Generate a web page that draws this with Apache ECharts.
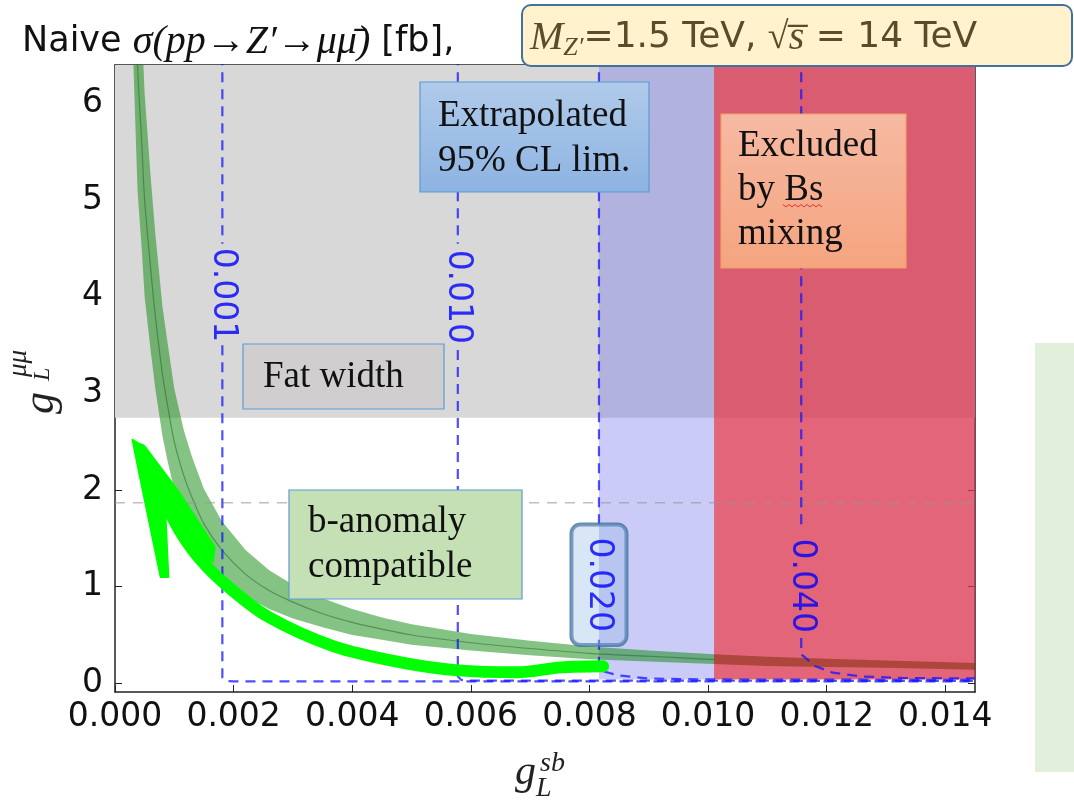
<!DOCTYPE html>
<html>
<head>
<meta charset="utf-8">
<title>Naive sigma(pp -> Z' -> mu mu) in the gL_sb / gL_mumu plane</title>
<script src="https://cdn.jsdelivr.net/npm/echarts@6/dist/echarts.min.js"></script>
<style>
  html, body { margin: 0; padding: 0; background: #fff; }
  #main { width: 1074px; height: 802px; }
</style>
</head>
<body>
<div id="main"></div>
<script>
// axis ranges + ticks
var xMin = 0, xMax = 0.0145, yMin = -0.09, yMax = 6.4;
var xTicks = [0, 0.002, 0.004, 0.006, 0.008, 0.010, 0.012, 0.014];
var xTickLabels = ['0.000', '0.002', '0.004', '0.006', '0.008', '0.010', '0.012', '0.014'];
var yTicks = [0, 1, 2, 3, 4, 5, 6];
var yTickLabels = ['0', '1', '2', '3', '4', '5', '6'];

// shaded regions
var fatWidthY = 2.75;          // "Fat width" above this
var extrapStartX = 0.00816;    // extrapolated 95% CL limit (blue)
var bsMixStartX = 0.0101;      // excluded by Bs mixing (red)
var regionBottomY = 0.04;
var refLineY = 1.87;           // grey dashed line

// b-anomaly compatible band (green)
var bandX   = [0.0003, 0.00038, 0.00045, 0.0005, 0.0006, 0.00068, 0.0008, 0.00088, 0.001, 0.00116, 0.0013, 0.0015, 0.0018, 0.0022, 0.0026, 0.003, 0.0035, 0.004, 0.0045, 0.005, 0.006, 0.007, 0.008, 0.009, 0.0101, 0.011, 0.012, 0.013, 0.0145];
var bandMid = [8.3, 6.4, 5.6, 5.0, 4.3, 3.8, 3.2, 2.9, 2.5, 2.15, 1.92, 1.65, 1.38, 1.13, 0.96, 0.84, 0.72, 0.63, 0.56, 0.5, 0.42, 0.36, 0.31, 0.28, 0.245, 0.225, 0.21, 0.195, 0.175];
var bandHi  = [10.1, 7.8, 6.8, 6.1, 5.25, 4.65, 3.9, 3.55, 3.05, 2.62, 2.34, 2.01, 1.68, 1.38, 1.17, 1.02, 0.88, 0.77, 0.68, 0.61, 0.51, 0.44, 0.38, 0.34, 0.3, 0.275, 0.255, 0.235, 0.21];
var bandLo  = [6.6, 5.1, 4.5, 4.0, 3.45, 3.05, 2.56, 2.32, 2.0, 1.72, 1.54, 1.32, 1.1, 0.9, 0.77, 0.67, 0.58, 0.5, 0.45, 0.4, 0.34, 0.29, 0.25, 0.225, 0.2, 0.18, 0.17, 0.16, 0.14];

// cross-section contours (null = gap for the label)
var contourLevels = ['0.001', '0.010', '0.020', '0.040'];
var c001X = [0.00181, 0.00181, null, 0.00181, 0.00181, 0.00186, 0.0020, 0.0145];
var c001Y = [6.5, 4.55, null, 3.5, 0.06, 0.025, 0.02, 0.02];
var c010X = [0.00578, 0.00578, null, 0.00578, 0.00578, 0.00584, 0.0060, 0.0145];
var c010Y = [6.5, 4.55, null, 3.45, 0.07, 0.035, 0.028, 0.025];
var c020X = [0.00816, 0.00816, null, 0.00816, 0.00816, 0.0082, 0.0085, 0.0090, 0.0100, 0.0145];
var c020Y = [6.5, 1.6, null, 0.45, 0.2, 0.13, 0.08, 0.05, 0.04, 0.035];
var c040X = [0.01157, 0.01157, null, 0.01157, 0.01157, 0.0118, 0.0121, 0.0126, 0.0133, 0.0145];
var c040Y = [6.5, 1.58, null, 0.47, 0.3, 0.18, 0.11, 0.07, 0.055, 0.05];
var contourLabelX = [0.00181, 0.00578, 0.00816, 0.01157];
var contourLabelY = [4.02, 4.0, 1.02, 1.01];

// hand drawn green arrow
var arrowX = [0.00823, 0.00752, 0.00679, 0.00578, 0.00482, 0.00369, 0.00257, 0.0019, 0.00144, 0.0011, 0.00082, 0.0006, 0.00043];
var arrowY = [0.176, 0.165, 0.114, 0.134, 0.217, 0.383, 0.693, 1.003, 1.28, 1.57, 1.9, 2.21, 2.42];
var arrowHeadX = [0.000295, 0.000515, 0.00110, 0.00168, 0.00165, 0.00149, 0.00085, 0.0009, 0.00077, 0.00043];
var arrowHeadY = [2.52, 2.44, 1.96, 1.41, 1.26, 1.26, 1.75, 1.10, 1.10, 2.11];

function zip(xs, ys) {
  return xs.map(function (x, i) { return x === null ? ['-', '-'] : [x, ys[i]]; });
}
function tickLabel(v, ticks, labels) {
  var best = 0;
  for (var i = 1; i < ticks.length; i++) {
    if (Math.abs(ticks[i] - v) < Math.abs(ticks[best] - v)) best = i;
  }
  return labels[best];
}
function polygonSeries(xs, ys, style, z) {
  return {
    type: 'custom', z: z, silent: true, clip: true,
    data: [[xs[0], ys[0]]],
    renderItem: function (params, api) {
      var pts = xs.map(function (x, i) { return api.coord([x, ys[i]]); });
      return { type: 'polygon', shape: { points: pts }, style: style };
    }
  };
}
function bandPart(keep) {
  var xs = [], hi = [], lo = [];
  bandX.forEach(function (x, i) {
    if (keep(x)) { xs.push(x); hi.push(bandHi[i]); lo.push(bandLo[i]); }
  });
  return { x: xs.concat(xs.slice().reverse()), y: hi.concat(lo.slice().reverse()) };
}
var greenPart = bandPart(function (x) { return x <= bsMixStartX; });
var redPart = bandPart(function (x) { return x >= bsMixStartX; });

function contour(xs, ys) {
  return {
    type: 'line', z: 4, silent: true, symbol: 'none', connectNulls: false,
    data: zip(xs, ys),
    lineStyle: { color: 'rgba(20,20,255,0.75)', width: 2.2, type: [10, 7] }
  };
}

var sans = 'DejaVu Sans';
var serif = 'Liberation Serif';

var chart = echarts.init(document.getElementById('main'));

var labelData = contourLevels.map(function (lev, i) {
  var item = { value: [contourLabelX[i], contourLabelY[i]] };
  if (lev === '0.020') {
    item.label = {
      backgroundColor: 'rgba(150,185,230,0.45)', borderColor: '#41719c',
      borderWidth: 2, borderRadius: 9, padding: [11, 13]
    };
  }
  return item;
});

var option = {
  animation: false,
  backgroundColor: '#fff',
  grid: { left: 115, right: 99, top: 65, bottom: 110, containLabel: false },
  xAxis: [{
    type: 'value', min: xMin, max: xMax, position: 'bottom',
    axisLine: { onZero: false, lineStyle: { color: '#222', width: 1.5 } },
    axisTick: { inside: true, length: 7, customValues: xTicks, lineStyle: { color: '#222' } },
    axisLabel: {
      customValues: xTicks, margin: 9, color: '#111', fontSize: 33, fontFamily: sans,
      formatter: function (v) { return tickLabel(v, xTicks, xTickLabels); }
    },
    splitLine: { show: false }
  }, {
    type: 'value', min: xMin, max: xMax, position: 'top',
    axisLine: { onZero: false, lineStyle: { color: '#222', width: 1.5 } },
    axisTick: { inside: true, length: 7, customValues: xTicks, lineStyle: { color: '#222' } },
    axisLabel: { show: false }, splitLine: { show: false }
  }],
  yAxis: [{
    type: 'value', min: yMin, max: yMax, position: 'left',
    axisLine: { onZero: false, lineStyle: { color: '#222', width: 1.5 } },
    axisTick: { inside: true, length: 7, customValues: yTicks, lineStyle: { color: '#222' } },
    axisLabel: {
      customValues: yTicks, margin: 12, color: '#111', fontSize: 33, fontFamily: sans,
      formatter: function (v) { return tickLabel(v, yTicks, yTickLabels); }
    },
    splitLine: { show: false }
  }, {
    type: 'value', min: yMin, max: yMax, position: 'right',
    axisLine: { onZero: false, lineStyle: { color: '#222', width: 1.5 } },
    axisTick: { inside: true, length: 7, customValues: yTicks, lineStyle: { color: '#222' } },
    axisLabel: { show: false }, splitLine: { show: false }
  }],
  series: [
    {
      // shaded regions
      type: 'line', z: 1, silent: true, symbol: 'none',
      data: [[xMin, yMin]], lineStyle: { opacity: 0 },
      markArea: {
        silent: true,
        data: [
          [{ coord: [xMin, fatWidthY], itemStyle: { color: '#d8d8d8', opacity: 1 } }, { coord: [xMax, yMax] }],
          [{ coord: [extrapStartX, regionBottomY], itemStyle: { color: 'rgba(110,110,235,0.36)', opacity: 1 } }, { coord: [bsMixStartX, yMax] }],
          [{ coord: [bsMixStartX, regionBottomY], itemStyle: { color: 'rgba(217,54,81,0.77)', opacity: 1 } }, { coord: [xMax, yMax] }]
        ]
      }
    },
    polygonSeries(greenPart.x, greenPart.y, { fill: 'rgba(10,135,10,0.5)' }, 2),
    polygonSeries(redPart.x, redPart.y, { fill: 'rgba(120,40,0,0.5)' }, 2),
    {
      type: 'line', z: 3, silent: true, symbol: 'none', clip: true, smooth: 0.3,
      data: zip(bandX.filter(function (x) { return x <= bsMixStartX; }), bandMid),
      lineStyle: { color: 'rgba(30,100,30,0.5)', width: 1.2 }
    },
    {
      type: 'line', z: 3, silent: true, symbol: 'none',
      data: zip([xMin, xMax], [refLineY, refLineY]),
      lineStyle: { color: 'rgba(150,150,150,0.6)', width: 1.5, type: [10, 8] }
    },
    contour(c001X, c001Y),
    contour(c010X, c010Y),
    contour(c020X, c020Y),
    contour(c040X, c040Y),
    {
      type: 'line', z: 5, silent: true, symbol: 'none', smooth: 0.3,
      data: zip(arrowX, arrowY),
      lineStyle: { color: '#00ff00', width: 12, cap: 'round', join: 'round' }
    },
    polygonSeries(arrowHeadX, arrowHeadY, { fill: '#00ff00', stroke: '#00ff00', lineWidth: 2, lineJoin: 'round' }, 5),
    {
      type: 'scatter', z: 6, silent: true, symbolSize: 1,
      itemStyle: { color: 'rgba(0,0,0,0)' },
      data: labelData,
      label: {
        show: true, position: 'inside', rotate: -90,
        color: '#0000ff', fontSize: 33, fontFamily: sans,
        formatter: function (p) { return contourLevels[p.dataIndex]; }
      },
      labelLayout: { hideOverlap: false }
    }
  ],
  graphic: [
    // pale green strip at the right edge
    { type: 'rect', z: 100, shape: { x: 1035, y: 343, width: 39, height: 429 }, style: { fill: '#e2efda' } },
    // title
    {
      type: 'text', z: 100, x: 22, y: 42,
      style: {
        text: '{s|Naive }{m|σ(pp→Z′→μμ̄)}{s| [fb],}',
        verticalAlign: 'middle', align: 'left',
        rich: {
          s: { fontFamily: sans, fontSize: 35, fill: '#111', color: '#111' },
          m: { fontFamily: serif, fontStyle: 'italic', fontSize: 40, fill: '#111', color: '#111' }
        }
      }
    },
    {
      type: 'rect', z: 100, shape: { x: 522, y: 5, width: 550, height: 61, r: 9 },
      style: { fill: '#fff2cc', stroke: '#41719c', lineWidth: 2 }
    },
    {
      type: 'text', z: 101, x: 530, y: 38,
      style: {
        text: '{m|M}{sub|Z′}{s|=1.5 TeV, }{r|√}{m|s̅}{s| = 14 TeV}',
        verticalAlign: 'middle', align: 'left',
        rich: {
          s: { fontFamily: sans, fontSize: 36, lineHeight: 46, fill: '#5b4b2b', color: '#5b4b2b' },
          m: { fontFamily: serif, fontStyle: 'italic', fontSize: 40, lineHeight: 46, fill: '#5b4b2b', color: '#5b4b2b' },
          r: { fontFamily: serif, fontSize: 38, lineHeight: 46, fill: '#5b4b2b', color: '#5b4b2b' },
          sub: { fontFamily: serif, fontStyle: 'italic', fontSize: 26, lineHeight: 26, verticalAlign: 'bottom', fill: '#5b4b2b', color: '#5b4b2b' }
        }
      }
    },
    // annotation boxes
    {
      type: 'rect', z: 100, shape: { x: 420, y: 82, width: 229, height: 110 },
      style: {
        fill: new echarts.graphic.LinearGradient(0, 0, 0, 1, [{ offset: 0, color: '#b0cbea' }, { offset: 1, color: '#8db3e2' }]),
        stroke: '#5b9bd5', lineWidth: 1.2
      }
    },
    {
      type: 'text', z: 101, x: 438, y: 94,
      style: { text: 'Extrapolated\n95% CL lim.', fontFamily: serif, fontSize: 37, lineHeight: 45, fill: '#111', verticalAlign: 'top' }
    },
    {
      type: 'rect', z: 100, shape: { x: 721, y: 114, width: 185, height: 154 },
      style: {
        fill: new echarts.graphic.LinearGradient(0, 0, 0, 1, [{ offset: 0, color: '#f6baa3' }, { offset: 1, color: '#f5a47f' }]),
        stroke: '#f3a066', lineWidth: 1.2
      }
    },
    {
      type: 'text', z: 101, x: 738, y: 124,
      style: { text: 'Excluded\nby Bs\nmixing', fontFamily: serif, fontSize: 37, lineHeight: 44, fill: '#111', verticalAlign: 'top' }
    },
    {
      type: 'polyline', z: 102,
      shape: { points: (function () { var p = []; for (var i = 0; i <= 13; i++) p.push([783 + i * 3, i % 2 ? 207 : 204.5]); return p; })() },
      style: { stroke: '#e03030', lineWidth: 1, fill: null }
    },
    {
      type: 'rect', z: 100, shape: { x: 243, y: 344, width: 201, height: 65 },
      style: { fill: '#d0cece', stroke: '#5b9bd5', lineWidth: 1.2 }
    },
    {
      type: 'text', z: 101, x: 263, y: 355,
      style: { text: 'Fat width', fontFamily: serif, fontSize: 37, lineHeight: 44, fill: '#111', verticalAlign: 'top' }
    },
    {
      type: 'rect', z: 100, shape: { x: 289, y: 490, width: 233, height: 109 },
      style: { fill: '#c5e0b4', stroke: '#5b9bd5', lineWidth: 1.2 }
    },
    {
      type: 'text', z: 101, x: 308, y: 500,
      style: { text: 'b-anomaly\ncompatible', fontFamily: serif, fontSize: 37, lineHeight: 45, fill: '#111', verticalAlign: 'top' }
    },
    // x axis name  g_L^sb
    { type: 'text', z: 100, x: 515, y: 773, style: { text: 'g', fontFamily: serif, fontStyle: 'italic', fontSize: 42, fill: '#222', verticalAlign: 'middle' } },
    { type: 'text', z: 100, x: 540, y: 764, style: { text: 'sb', fontFamily: serif, fontStyle: 'italic', fontSize: 28, fill: '#222', verticalAlign: 'middle' } },
    { type: 'text', z: 100, x: 536, y: 789, style: { text: 'L', fontFamily: serif, fontStyle: 'italic', fontSize: 28, fill: '#222', verticalAlign: 'middle' } },
    // y axis name  g_L^mumu
    {
      type: 'group', z: 100, x: 41, y: 414, rotation: Math.PI / 2,
      children: [
        { type: 'text', x: 0, y: 0, style: { text: 'g', fontFamily: serif, fontStyle: 'italic', fontSize: 44, fill: '#222', verticalAlign: 'middle' } },
        { type: 'text', x: 37, y: -22, style: { text: 'μμ', fontFamily: serif, fontStyle: 'italic', fontSize: 27, fill: '#222', verticalAlign: 'middle' } },
        { type: 'text', x: 33, y: 2, style: { text: 'L', fontFamily: serif, fontStyle: 'italic', fontSize: 24, fill: '#222', verticalAlign: 'middle' } }
      ]
    }
  ]
};

chart.setOption(option);
</script>
</body>
</html>
